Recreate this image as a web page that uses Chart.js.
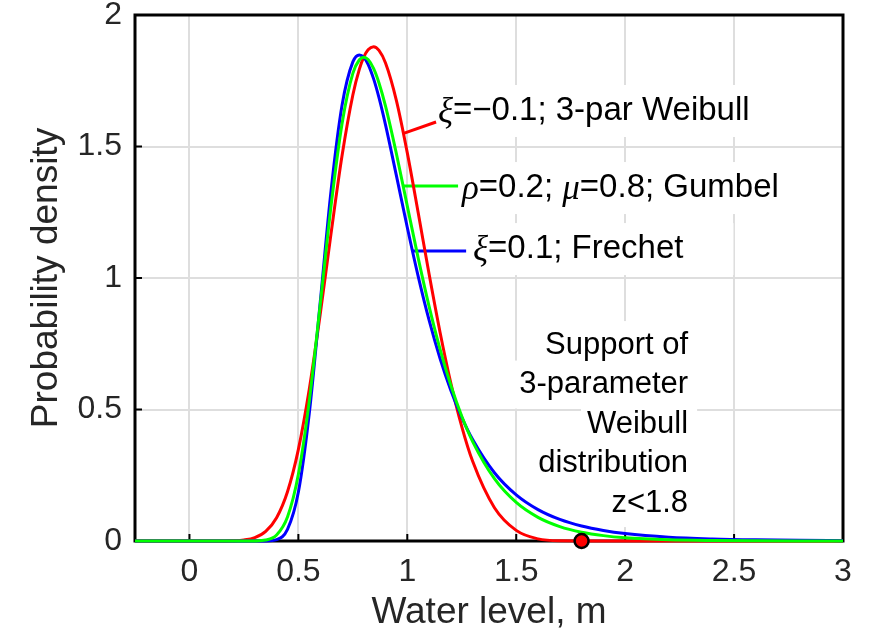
<!DOCTYPE html>
<html>
<head>
<meta charset="utf-8">
<script src="https://cdn.jsdelivr.net/npm/chart.js@4.4.1/dist/chart.umd.min.js"></script>
<style>
  html, body { margin: 0; padding: 0; background: #fff; }
  #wrap { position: relative; width: 884px; height: 641px; }
</style>
</head>
<body>
<div id="wrap"><canvas id="pdfChart"></canvas></div>
<script>
// water level (m) and the three densities
const waterLevel = [-0.25, 0, 0.1, 0.15, 0.2, 0.25, 0.3, 0.35, 0.4, 0.45, 0.5, 0.55, 0.6, 0.65, 0.7, 0.75, 0.78, 0.8, 0.82, 0.845,
  0.87, 0.9, 0.95, 1.0, 1.05, 1.1, 1.15, 1.2, 1.25, 1.3, 1.4, 1.5, 1.6, 1.7, 1.8, 1.9, 2.0, 2.2, 2.4, 2.6, 2.8, 3.0];
const weibullPdf = [0, 0, 0, 0.0002, 0.0009, 0.0038, 0.0127, 0.0364, 0.0887, 0.1875, 0.3486, 0.577, 0.861, 1.170, 1.4626, 1.696, 1.7943, 1.8394, 1.8677, 1.8793,
  1.8653, 1.8176, 1.6747, 1.4757, 1.2479, 1.0148, 0.7948, 0.5995, 0.4351, 0.3029, 0.1267, 0.0404, 0.008, 0.0005, 0, 0, 0, 0, 0, 0, 0, 0];
const gumbelPdf = [0, 0, 0, 0, 0, 0, 0.0003, 0.0036, 0.0228, 0.0911, 0.2535, 0.532, 0.8966, 1.274, 1.585, 1.778, 1.8299, 1.8394, 1.8305, 1.7967,
  1.7415, 1.6536, 1.4726, 1.2732, 1.0757, 0.8923, 0.7302, 0.591, 0.4743, 0.3781, 0.2369, 0.1465, 0.0899, 0.0549, 0.0335, 0.0204, 0.0124, 0.0046, 0.0017, 0.0006, 0.0002, 0.0001];
const frechetPdf = [0, 0, 0, 0, 0, 0, 0, 0.0002, 0.0053, 0.0441, 0.186, 0.4855, 0.905, 1.332, 1.6546, 1.8218, 1.8483, 1.8394, 1.8125, 1.758,
  1.6856, 1.5822, 1.3891, 1.1918, 1.006, 0.8394, 0.6949, 0.5726, 0.4704, 0.3858, 0.2595, 0.1753, 0.1193, 0.0819, 0.0568, 0.0398, 0.0282, 0.0145, 0.0078, 0.0043, 0.0024, 0.0014];

const xTicks = [0, 0.5, 1, 1.5, 2, 2.5, 3];
const yTicks = [0, 0.5, 1, 1.5, 2];

// upper end of the weibull support
const supportEndX = [1.8];
const supportEndY = [0];

const SANS = '"Liberation Sans", Arial, Helvetica, sans-serif';
const SERIF = '"Liberation Serif", "Times New Roman", serif';

// curve labels (data coords), [text, isGreek]
const curveLabels = [
  {parts: [['ξ', true], ['=−0.1; 3-par Weibull', false]], color: '#ff0000', at: [1.141, 1.635], from: [0.983, 1.55], to: [1.132, 1.593], padR: 7},
  {parts: [['ρ', true], ['=0.2; ', false], ['μ', true], ['=0.8; Gumbel', false]], color: '#00ff00', at: [1.251, 1.342], from: [0.981, 1.35], to: [1.233, 1.35], padR: 7},
  {parts: [['ξ', true], ['=0.1; Frechet', false]], color: '#0000ff', at: [1.302, 1.110], from: [1.024, 1.103], to: [1.27, 1.103], padR: 50}
];
const supportText = ['Support of', '3-parameter', 'Weibull', 'distribution', 'z<1.8'];
const supportAt = [2.289, 0.745];

function partFont(greek){ return greek ? 'italic 35px ' + SERIF : '33px ' + SANS; }

const decor = {
  id: 'decor',
  beforeDatasetsDraw(chart){
    const {ctx, chartArea: a, scales: {x, y}} = chart;
    ctx.save();
    ctx.textBaseline = 'middle';

    curveLabels.forEach(n => {
      const tx = x.getPixelForValue(n.at[0]), ty = y.getPixelForValue(n.at[1]);
      let w = 0;
      n.parts.forEach(p => { ctx.font = partFont(p[1]); w += ctx.measureText(p[0]).width; });
      ctx.fillStyle = '#fff';
      ctx.fillRect(tx - 5, ty - 26, w + 5 + n.padR, 52);
      ctx.strokeStyle = n.color; ctx.lineWidth = 3;
      ctx.beginPath();
      ctx.moveTo(x.getPixelForValue(n.from[0]), y.getPixelForValue(n.from[1]));
      ctx.lineTo(x.getPixelForValue(n.to[0]), y.getPixelForValue(n.to[1]));
      ctx.stroke();
      ctx.fillStyle = '#000'; ctx.textAlign = 'left';
      let cx = tx;
      n.parts.forEach(p => { ctx.font = partFont(p[1]); ctx.fillText(p[0], cx, ty + (p[1] ? 2 : 0)); cx += ctx.measureText(p[0]).width; });
    });

    // support note, one white box per line
    const rx = x.getPixelForValue(supportAt[0]), ry = y.getPixelForValue(supportAt[1]);
    ctx.font = '31px ' + SANS; ctx.textAlign = 'right';
    supportText.forEach((s, i) => {
      const w = ctx.measureText(s).width;
      ctx.fillStyle = '#fff';
      ctx.fillRect(rx - w - 6, ry + i * 39.5 - 24, w + 15, 48);
    });
    ctx.fillStyle = '#000';
    supportText.forEach((s, i) => ctx.fillText(s, rx, ry + i * 39.5));

    // axes box and inward ticks
    ctx.strokeStyle = '#000'; ctx.lineWidth = 3;
    ctx.strokeRect(a.left, a.top, a.width, a.height);
    ctx.lineWidth = 2;
    ctx.beginPath();
    xTicks.forEach(v => { const px = x.getPixelForValue(v); ctx.moveTo(px, a.bottom); ctx.lineTo(px, a.bottom - 7); });
    yTicks.forEach(v => { const py = y.getPixelForValue(v); ctx.moveTo(a.left, py); ctx.lineTo(a.left + 7, py); });
    ctx.stroke();
    ctx.restore();
  }
};

function pts(ys){ return waterLevel.map((v, i) => ({x: v, y: ys[i]})); }
const lineStyle = {borderWidth: 3, pointRadius: 0, fill: false, cubicInterpolationMode: 'monotone', clip: false};

Chart.defaults.font.family = SANS;

new Chart(document.getElementById('pdfChart'), {
  type: 'line',
  data: {
    datasets: [
      {type: 'scatter', data: supportEndX.map((v, i) => ({x: v, y: supportEndY[i]})), pointRadius: 7, pointBackgroundColor: '#ff0000',
        pointBorderColor: '#000', pointBorderWidth: 2.5, clip: false, showLine: false},
      Object.assign({label: 'Gumbel', data: pts(gumbelPdf), borderColor: '#00ff00'}, lineStyle),
      Object.assign({label: 'Frechet', data: pts(frechetPdf), borderColor: '#0000ff'}, lineStyle),
      Object.assign({label: 'Weibull', data: pts(weibullPdf), borderColor: '#ff0000'}, lineStyle)
    ]
  },
  options: {
    responsive: true,
    maintainAspectRatio: false,
    animation: false,
    layout: {padding: {top: 15, right: 41, left: 0, bottom: 0}},
    plugins: {legend: {display: false}, tooltip: {enabled: false}},
    scales: {
      x: {
        type: 'linear', min: -0.25, max: 3,
        afterBuildTicks: s => { s.ticks = xTicks.map(v => ({value: v})); },
        afterFit: s => { s.height = 100; s.paddingLeft = 0; s.paddingRight = 0; },
        ticks: {callback: v => String(v), color: '#262626', font: {size: 32}, padding: 12, maxRotation: 0, autoSkip: false},
        grid: {color: '#dedede', lineWidth: 2, drawTicks: false},
        border: {display: false},
        title: {display: true, text: 'Water level, m', color: '#262626', font: {size: 37}, padding: {top: 0, bottom: 6}}
      },
      y: {
        min: 0, max: 2,
        afterBuildTicks: s => { s.ticks = yTicks.map(v => ({value: v})); },
        afterFit: s => { s.width = 135; s.paddingTop = 0; s.paddingBottom = 0; },
        ticks: {callback: v => String(v), color: '#262626', font: {size: 32}, padding: 13},
        grid: {color: '#dedede', lineWidth: 2, drawTicks: false},
        border: {display: false},
        title: {display: true, text: 'Probability density', color: '#262626', font: {size: 37}, padding: {top: 25, bottom: 0}}
      }
    }
  },
  plugins: [decor]
});
</script>
</body>
</html>
